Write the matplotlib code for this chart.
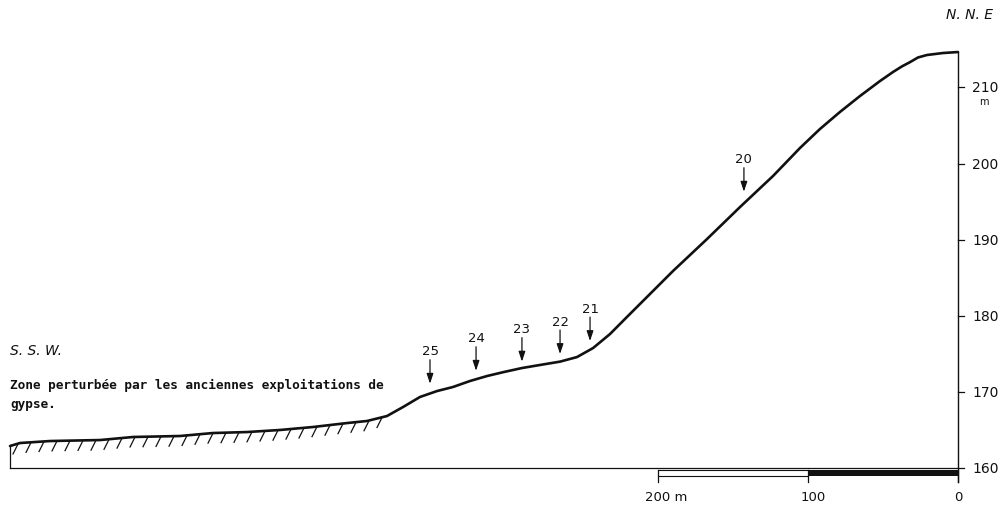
import numpy as np
import matplotlib
matplotlib.use("Agg")
import matplotlib.pyplot as plt

# ---- data (distance in m from the N.N.E end, elevation in m) ----
profile_dist = [632.0, 625.3, 605.3, 572.0, 550.0, 518.7, 496.7, 474.0, 452.0, 430.0,
                407.3, 394.0, 380.7, 370.0, 358.7, 347.3, 336.7, 325.3, 314.0, 302.7,
                290.7, 278.7, 265.3, 254.0, 243.3, 232.0, 220.7, 210.0, 190.0, 167.3,
                145.3, 123.3, 105.3, 92.0, 78.7, 65.3, 52.0, 43.3, 37.3, 32.0, 26.7,
                20.7, 10.0, 0.0]
profile_elev = [162.93, 163.32, 163.58, 163.71, 164.11, 164.24, 164.63, 164.76, 165.03, 165.42,
                165.94, 166.21, 166.86, 168.04, 169.36, 170.14, 170.67, 171.46, 172.11, 172.64,
                173.16, 173.56, 174.00, 174.60, 175.78, 177.62, 179.86, 181.96, 185.89, 190.09,
                194.29, 198.36, 202.04, 204.53, 206.76, 208.86, 210.82, 212.01, 212.75, 213.30,
                213.91, 214.24, 214.50, 214.63]
disturbed_start = 380.7   # hatched zone extends from here to the left end

sample_labels = ["25", "24", "23", "22", "21", "20"]
sample_dist = [352.0, 321.3, 290.7, 265.3, 245.3, 142.7]
sample_elev = [171.1, 172.8, 174.0, 175.0, 176.7, 196.3]

y_ticks = [160, 170, 180, 190, 200, 210]
y_tick_labels = ["160", "170", "180", "190", "200", "210"]
scale_ticks = [200, 100, 0]
scale_labels = ["200 m", "100", "0"]

base_elev = 160.0

# ---- figure ----
W, H, DPI = 1004, 510, 100
fig = plt.figure(figsize=(W / DPI, H / DPI), dpi=DPI)
ax = fig.add_axes([0, 0, 1, 1])
ax.set_axis_off()
# pixel mapping: d = (958 - px)/1.5 ; elev = 160 + (469.3 - py)/7.62
ax.set_xlim(638.7, -30.7)
ax.set_ylim(154.66, 221.59)

px_m = 1.5      # pixels per metre horizontally
py_m = 7.62     # pixels per metre vertically
ink = "#111111"

def ypix(py):
    return 160 + (469.3 - py) / py_m

# profile
ax.plot(profile_dist, profile_elev, color=ink, lw=1.9, solid_capstyle="round",
        solid_joinstyle="round", zorder=3)

# hatches under disturbed zone
left_end = profile_dist[0]
hx = np.arange(left_end - 7 / px_m, disturbed_start - 1, -13 / px_m)
pd_rev = profile_dist[::-1]
pe_rev = profile_elev[::-1]
for x in hx:
    yc = np.interp(x, pd_rev, pe_rev)
    ax.plot([x - 1.0 / px_m, x + 4.0 / px_m], [yc, yc - 10 / py_m],
            color=ink, lw=0.9, zorder=2)

# left box edge and baseline
ax.plot([left_end, left_end], [profile_elev[0], base_elev], color=ink, lw=0.9)
ax.plot([left_end, 0], [base_elev, base_elev], color=ink, lw=0.9)

# vertical axis at distance 0
ax.plot([0, 0], [158.2, profile_elev[-1]], color=ink, lw=1.0)
for t, lab in zip(y_ticks, y_tick_labels):
    ax.plot([0, -6 / px_m], [t, t], color=ink, lw=0.9)
    ax.text(-14 / px_m, t, lab, ha="left", va="center", fontsize=10, color=ink)
ax.text(-26 / px_m, 210 - 14 / py_m, "m", ha="center", va="center", fontsize=7, color=ink)

# scale bar
bar_top = base_elev - 1.4 / py_m
bar_bot = base_elev - 7.4 / py_m
ax.fill_between([100, 0], [bar_top, bar_top], [bar_bot, bar_bot], color=ink, lw=0)
ax.plot([200, 100], [bar_bot, bar_bot], color=ink, lw=0.8)
ax.plot([200, 100], [bar_top, bar_top], color=ink, lw=0.8)
for t in scale_ticks:
    ax.plot([t, t], [base_elev - 2 / py_m, base_elev - 14 / py_m], color=ink, lw=0.9)
label_y = base_elev - 28 / py_m
ax.text(200 + 13 / px_m, label_y, scale_labels[0], ha="left", va="center", fontsize=9.5, color=ink)
ax.text(100 - 5 / px_m, label_y, scale_labels[1], ha="center", va="center", fontsize=9.5, color=ink)
ax.text(0, label_y, scale_labels[2], ha="center", va="center", fontsize=9.5, color=ink)

# sample arrows
for lab, d, e in zip(sample_labels, sample_dist, sample_elev):
    ax.annotate("", xy=(d, e), xytext=(d, e + 24 / py_m),
                arrowprops=dict(arrowstyle="-|>,head_length=0.6,head_width=0.2",
                                color=ink, lw=0.9, mutation_scale=10,
                                shrinkA=0, shrinkB=0))
    ax.text(d, e + 33 / py_m, lab, ha="center", va="center", fontsize=9.5, color=ink)

# orientation labels and note
ax.text(632, ypix(351), "S. S. W.", ha="left", va="center",
        fontsize=10, style="italic", color=ink)
ax.text(-8, ypix(15), "N. N. E", ha="center", va="center",
        fontsize=10, style="italic", color=ink)
ax.text(632, ypix(385),
        "Zone perturbée par les anciennes exploitations de",
        ha="left", va="center", fontsize=9.2, fontweight="bold",
        family="DejaVu Sans Mono", color=ink)
ax.text(632, ypix(404), "gypse.",
        ha="left", va="center", fontsize=9.2, fontweight="bold",
        family="DejaVu Sans Mono", color=ink)

fig.savefig("out.png", dpi=DPI, facecolor="white")
